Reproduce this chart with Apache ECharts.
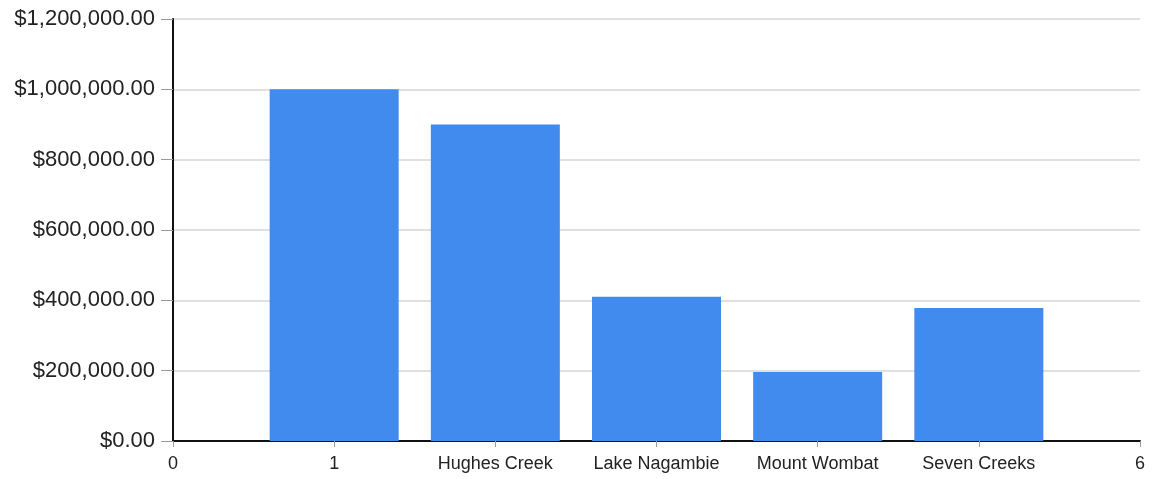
<!DOCTYPE html>
<html>
<head>
<meta charset="utf-8">
<script src="https://cdn.jsdelivr.net/npm/echarts@6/dist/echarts.min.js"></script>
<style>
  html, body { margin: 0; padding: 0; background: #fff; }
  #chart { width: 1155px; height: 479px; }
</style>
</head>
<body>
<div id="chart"></div>
<script>
// categories sit at x = 1..5 on a 0..6 value axis
const categories = ['1', 'Hughes Creek', 'Lake Nagambie', 'Mount Wombat', 'Seven Creeks'];
const positions = [1, 2, 3, 4, 5];
const values = [1000000, 900000, 410000, 196000, 378000];
const yTicks = [0, 200000, 400000, 600000, 800000, 1000000, 1200000];

const xLabel = (v) => {
  const i = positions.indexOf(v);
  return i >= 0 ? categories[i] : String(v);
};
const money = (v) => '$' + v.toLocaleString('en-US', { minimumFractionDigits: 2, maximumFractionDigits: 2 });

const chart = echarts.init(document.getElementById('chart'));
chart.setOption({
  animation: false,
  grid: { left: 173, right: 15, top: 19, bottom: 38, containLabel: false },
  xAxis: {
    type: 'value',
    min: 0,
    max: 6,
    interval: 1,
    axisLine: { show: true, lineStyle: { color: '#111', width: 2 } },
    axisTick: { show: true, length: 6, lineStyle: { color: '#999' } },
    splitLine: { show: false },
    axisLabel: {
      formatter: xLabel,
      color: '#222',
      fontFamily: 'Liberation Sans, Arial, sans-serif',
      fontSize: 18,
      margin: 14
    }
  },
  yAxis: {
    type: 'value',
    min: yTicks[0],
    max: yTicks[yTicks.length - 1],
    interval: 200000,
    axisLine: { show: true, lineStyle: { color: '#111', width: 2 } },
    axisTick: { show: true, length: 12, lineStyle: { color: '#999' } },
    splitLine: { show: true, lineStyle: { color: '#e0e0e0', width: 2 } },
    axisLabel: {
      formatter: money,
      color: '#222',
      fontFamily: 'Liberation Sans, Arial, sans-serif',
      fontSize: 22,
      margin: 18,
      padding: [4, 0, 0, 0]
    }
  },
  series: [{
    type: 'bar',
    barWidth: 129,
    itemStyle: { color: '#418bef' },
    data: positions.map((p, i) => [p, values[i]])
  }]
});
</script>
</body>
</html>
